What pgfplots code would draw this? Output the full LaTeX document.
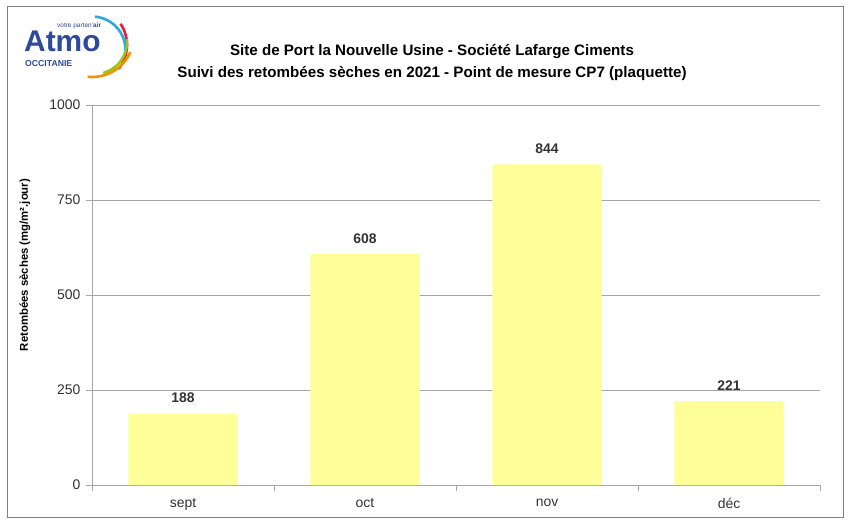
\documentclass[border=0pt]{standalone}
\usepackage{pgfplots}
\pgfplotsset{compat=1.18}
\usepackage{fontspec}
\setmainfont{Liberation Sans}
\definecolor{baryellow}{HTML}{FFFF99}
\definecolor{atmoblue}{HTML}{2E4A9E}
\definecolor{atmocyan}{HTML}{29ABE2}
\definecolor{atmored}{HTML}{E5203A}
\definecolor{atmogreen}{HTML}{9AC31C}
\definecolor{atmoorange}{HTML}{F39200}
\definecolor{gridgray}{HTML}{A6A6A6}
\definecolor{txtgray}{HTML}{333333}
\begin{document}
\begin{tikzpicture}
\begin{scope}[x=1bp,y=-1bp]
\path[fill=white] (0,0) rectangle (850,523);
\draw[color=gray, line width=1bp] (7,7) rectangle (843,517);
% logo
\node[anchor=base west, text=atmoblue, font=\bfseries\fontsize{30}{30}\selectfont, inner sep=0] at (24,52) {Atmo};
\node[anchor=west, text=atmoblue, font=\fontsize{6.5}{6.5}\selectfont, inner sep=0] at (57,26) {votre parten'\textbf{air}};
\node[anchor=west, text=atmoblue, font=\bfseries\fontsize{8.7}{8.7}\selectfont, inner sep=0] at (25,63.5) {OCCITANIE};
\draw[atmocyan, line width=2.6bp] (92,50) ++(-85:33.5) arc[start angle=-85, end angle=3.5, radius=33.5];
\draw[atmored, line width=2.6bp] (89,45) ++(-34:38) arc[start angle=-34, end angle=39, radius=38];
\draw[atmogreen, line width=2.6bp] (95,42) ++(-5:32) arc[start angle=-5, end angle=75, radius=32];
\draw[atmoorange, line width=2.6bp] (92,35) ++(24:42) arc[start angle=24, end angle=96, radius=42];
% title
\node[font=\bfseries\fontsize{15.2}{23}\selectfont, align=center] at (432,62.5) {Site de Port la Nouvelle Usine - Société Lafarge Ciments\\Suivi des retombées sèches en 2021 - Point de mesure CP7 (plaquette)};
% y label
\node[rotate=90, font=\bfseries\fontsize{11.4}{13}\selectfont, text=black] at (25,265) {Retombées sèches (mg/m².jour)};
\end{scope}
\begin{axis}[
  at={(92bp,-485bp)}, anchor=south west,
  scale only axis, width=728bp, height=380bp,
  ymin=0, ymax=1000, xmin=-0.5, xmax=3.5,
  ytick={0,250,500,750,1000},
  xtick={0,1,2,3}, xticklabels={sept,oct,nov,déc},
  axis lines*=left,
  axis line style={gridgray, line width=0.9bp},
  ymajorgrids, grid style={gridgray, line width=0.9bp},
  tick align=outside,
  major tick length=6bp,
  ytick style={gridgray, line width=0.9bp},
  xtick style={draw=none},
  extra x ticks={-0.5,0.5,1.5,2.5,3.5},
  extra x tick labels={},
  extra x tick style={grid=none, xtick style={gridgray, draw=gridgray, line width=0.9bp}},
  tick label style={font=\fontsize{14}{14}\selectfont, text=txtgray},
  /pgf/number format/assume math mode=true,
  /pgf/number format/1000 sep={},
  yticklabel style={xshift=-2bp},
  xticklabel style={yshift=-4bp},
  ybar, bar width=0.6,
  nodes near coords,
  every node near coord/.append style={font=\bfseries\fontsize{14}{14}\selectfont, text=txtgray, yshift=7bp},
  clip=false,
]
\addplot[fill=baryellow, draw=none] coordinates {(0,188) (1,608) (2,844) (3,221)};
\end{axis}
\end{tikzpicture}
\end{document}
